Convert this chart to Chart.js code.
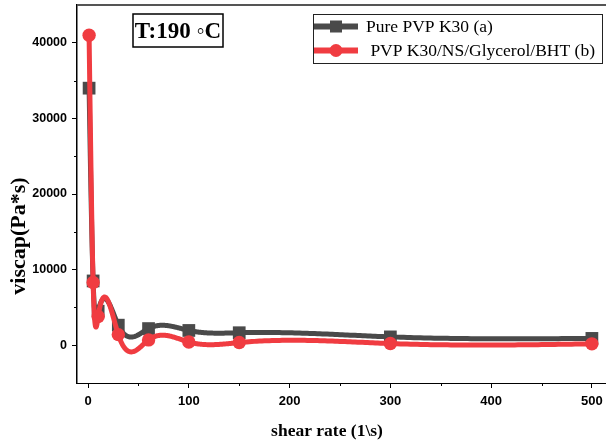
<!DOCTYPE html>
<html>
<head>
<meta charset="utf-8">
<script src="https://cdn.jsdelivr.net/npm/chart.js@4.4.1/dist/chart.umd.min.js"></script>
<style>
  html, body { margin: 0; padding: 0; background: #fff; overflow: hidden; }
  canvas { display: block; }
</style>
</head>
<body>
<canvas id="viscChart" width="606" height="443"></canvas>
<script>
// values: shear rate (1/s) vs viscosity (Pa*s)
var shearRate  = [1, 5, 10, 30, 60, 100, 150, 300, 500]
var viscPure   = [34000, 8500, 4500, 2650, 2200, 1950, 1650, 1100, 900]
var viscBlend  = [41000, 8300, 3800, 1400, 700, 420, 350, 220, 180]

var seriesLabels = ['Pure PVP K30 (a)', ' PVP K30/NS/Glycerol/BHT (b)']
var xTickValues  = [0, 100, 200, 300, 400, 500]
var xMinorValues = [50, 150, 250, 350, 450]
var yTickValues  = [0, 10000, 20000, 30000, 40000]
var yMinorValues = [5000, 15000, 25000, 35000]
var tempLabel = 'T:190 ◦C'
var xTitle = 'shear rate (1\\s)'
var yTitle = 'viscap(Pa*s)'

var grey = '#4a4a4a'
var red  = '#f03c41'
var serif = '"Liberation Serif", "Times New Roman", serif'
var sans  = '"Liberation Sans", Arial, sans-serif'

function pairs(xs, ys) {
  return xs.map(function (x, i) { return { x: x, y: ys[i] } })
}

// natural cubic spline, like the "Spline" connector of the original plot
function naturalSpline(xs, ys) {
  var n = xs.length, h = [], m = new Array(n).fill(0)
  for (var i = 0; i < n - 1; i++) h.push(xs[i + 1] - xs[i])
  var a = [], b = [], c = [], d = []
  for (var i = 1; i < n - 1; i++) {
    a.push(h[i - 1]); b.push(2 * (h[i - 1] + h[i])); c.push(h[i])
    d.push(6 * ((ys[i + 1] - ys[i]) / h[i] - (ys[i] - ys[i - 1]) / h[i - 1]))
  }
  var k = b.length
  for (var i = 1; i < k; i++) {
    var w = a[i] / b[i - 1]
    b[i] -= w * c[i - 1]
    d[i] -= w * d[i - 1]
  }
  var sol = new Array(k)
  sol[k - 1] = d[k - 1] / b[k - 1]
  for (var i = k - 2; i >= 0; i--) sol[i] = (d[i] - c[i] * sol[i + 1]) / b[i]
  for (var i = 0; i < k; i++) m[i + 1] = sol[i]
  return function (x) {
    var i = 0
    while (i < n - 2 && x > xs[i + 1]) i++
    var hh = h[i], t1 = xs[i + 1] - x, t2 = x - xs[i]
    return m[i] * t1 * t1 * t1 / (6 * hh) + m[i + 1] * t2 * t2 * t2 / (6 * hh) +
      (ys[i] / hh - m[i] * hh / 6) * t1 + (ys[i + 1] / hh - m[i + 1] * hh / 6) * t2
  }
}

var splinePlugin = {
  id: 'splineLines',
  beforeDatasetDraw: function (chart, args) {
    var ds = chart.data.datasets[args.index]
    var xs = ds.data.map(function (p) { return p.x })
    var ys = ds.data.map(function (p) { return p.y })
    var f = naturalSpline(xs, ys)
    var sx = chart.scales.x, sy = chart.scales.y, area = chart.chartArea
    var ctx = chart.ctx
    ctx.save()
    ctx.beginPath()
    ctx.rect(area.left, area.top, area.right - area.left, area.bottom - area.top)
    ctx.clip()
    ctx.beginPath()
    for (var i = 0; i < xs.length - 1; i++) {
      for (var s = 0; s <= 60; s++) {
        var x = xs[i] + (xs[i + 1] - xs[i]) * s / 60
        var px = sx.getPixelForValue(x), py = sy.getPixelForValue(f(x))
        if (i === 0 && s === 0) ctx.moveTo(px, py)
        else ctx.lineTo(px, py)
      }
    }
    ctx.strokeStyle = ds.borderColor
    ctx.lineWidth = ds.borderWidth
    ctx.lineJoin = 'round'
    ctx.lineCap = 'round'
    ctx.stroke()
    ctx.restore()
  }
}

var decorPlugin = {
  id: 'decor',
  afterDraw: function (chart) {
    var ctx = chart.ctx, area = chart.chartArea
    var sx = chart.scales.x, sy = chart.scales.y
    ctx.save()
    // top frame line
    ctx.strokeStyle = '#555'
    ctx.lineWidth = 2
    ctx.beginPath()
    ctx.moveTo(area.left, area.top)
    ctx.lineTo(chart.width, area.top)
    ctx.stroke()
    // minor ticks
    ctx.strokeStyle = '#000'
    ctx.lineWidth = 1
    ctx.beginPath()
    yMinorValues.forEach(function (v) {
      var y = Math.round(sy.getPixelForValue(v)) + 0.5
      ctx.moveTo(area.left - 3, y); ctx.lineTo(area.left, y)
    })
    xMinorValues.forEach(function (v) {
      var x = Math.round(sx.getPixelForValue(v)) + 0.5
      ctx.moveTo(x, area.bottom); ctx.lineTo(x, area.bottom + 3)
    })
    ctx.stroke()

    // temperature box
    ctx.font = 'bold 23px ' + serif
    ctx.fillStyle = '#000'
    ctx.textBaseline = 'middle'
    ctx.textAlign = 'center'
    var bx = area.left + 56, by = area.top + 9
    ctx.lineWidth = 1.5
    ctx.strokeRect(bx, by, 90, 33)
    ctx.fillText(tempLabel, bx + 45, by + 18)

    // legend box
    var lx = area.left + 236, ly = area.top + 9
    ctx.lineWidth = 1
    ctx.strokeStyle = '#222'
    ctx.strokeRect(lx + 0.5, ly + 0.5, 289, 49)
    ctx.font = '17.5px ' + serif
    ctx.textAlign = 'left'
    chart.data.datasets.forEach(function (ds, i) {
      var ry = ly + 12.5 + i * 24
      ctx.strokeStyle = ds.borderColor
      ctx.lineWidth = 6
      ctx.beginPath()
      ctx.moveTo(lx + 1, ry); ctx.lineTo(lx + 45, ry)
      ctx.stroke()
      ctx.fillStyle = ds.backgroundColor
      if (ds.pointStyle === 'rect') {
        ctx.fillRect(lx + 17, ry - 6, 12, 12)
      } else {
        ctx.beginPath()
        ctx.arc(lx + 23, ry, 6.5, 0, Math.PI * 2)
        ctx.fill()
      }
      ctx.fillStyle = '#000'
      ctx.fillText(ds.label, lx + 53, ry + 1)
    })

    // axis titles
    ctx.fillStyle = '#000'
    ctx.textAlign = 'center'
    ctx.font = 'bold 17.5px ' + serif
    ctx.fillText(xTitle, area.left + 250, area.bottom + 48)
    ctx.translate(area.left - 58, area.top + 231)
    ctx.rotate(-Math.PI / 2)
    ctx.font = 'bold 22px ' + serif
    ctx.fillText(yTitle, 0, 0)
    ctx.restore()
  }
}

var ctx = document.getElementById('viscChart').getContext('2d')
var viscChart = new Chart(ctx, {
  type: 'scatter',
  data: {
    datasets: [
      {
        label: seriesLabels[0],
        data: pairs(shearRate, viscPure),
        showLine: false,
        borderColor: grey,
        backgroundColor: grey,
        borderWidth: 5,
        pointStyle: 'rect',
        pointRadius: 9,
        pointBorderWidth: 0,
        order: 2
      },
      {
        label: seriesLabels[1],
        data: pairs(shearRate, viscBlend),
        showLine: false,
        borderColor: red,
        backgroundColor: red,
        borderWidth: 5,
        pointStyle: 'circle',
        pointRadius: 6.7,
        pointBorderWidth: 0,
        order: 1
      }
    ]
  },
  options: {
    responsive: false,
    animation: false,
    events: [],
    layout: { autoPadding: false, padding: { top: 5, right: 0, left: 0, bottom: 0 } },
    plugins: { legend: { display: false }, tooltip: { enabled: false } },
    scales: {
      x: {
        type: 'linear',
        min: -11,
        max: 514,
        afterFit: function (s) { s.height = 60; s.paddingLeft = 0; s.paddingRight = 0 },
        afterBuildTicks: function (s) { s.ticks = xTickValues.map(function (v) { return { value: v } }) },
        grid: { drawOnChartArea: false, drawTicks: true, tickLength: 5, tickColor: '#000' },
        border: { display: true, color: '#000', width: 1 },
        ticks: {
          color: '#000', padding: 6, maxRotation: 0, autoSkip: false,
          font: { family: sans, weight: 'bold', size: 13 },
          callback: function (v) { return String(v) }
        }
      },
      y: {
        type: 'linear',
        min: -5000,
        max: 45000,
        afterFit: function (s) { s.width = 77; s.paddingTop = 0; s.paddingBottom = 0 },
        afterBuildTicks: function (s) { s.ticks = yTickValues.map(function (v) { return { value: v } }) },
        grid: { drawOnChartArea: false, drawTicks: true, tickLength: 5, tickColor: '#000' },
        border: { display: true, color: '#000', width: 1.5 },
        ticks: {
          color: '#000', padding: 5, autoSkip: false,
          font: { family: sans, weight: 'bold', size: 12.5 },
          callback: function (v) { return String(v) }
        }
      }
    }
  },
  plugins: [splinePlugin, decorPlugin]
})
</script>
</body>
</html>
